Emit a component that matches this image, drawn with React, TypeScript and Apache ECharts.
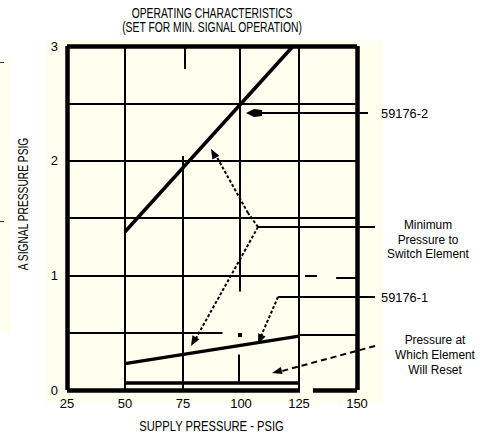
import React, { useEffect, useRef } from 'react';
import * as echarts from 'echarts';

const FONT = "'Liberation Sans', Arial, Helvetica, sans-serif";

const titleLines = ['OPERATING CHARACTERISTICS', '(SET FOR MIN. SIGNAL OPERATION)'];
const xName = 'SUPPLY PRESSURE - PSIG';
const yName = 'A SIGNAL PRESSURE PSIG';
const xTicks = [25, 50, 75, 100, 125, 150];
const yTicks = [0, 1, 2, 3];

// curves [supply psig, signal psig]
const line59176_2 = [[50, 1.38], [122.5, 3.0]];
const line59176_1 = [[50, 0.23], [125, 0.47]];
const resetLine = [[50, 0.06], [125, 0.06]];

// grid segments as drawn in the original (with its gaps)
const gridSegments = [
  [[50, 0], [50, 3]],
  [[75, 0], [75, 2.04]],
  [[75.9, 3], [75.9, 2.8]],
  [[99.5, 3], [99.5, 0.86]],
  [[99, 0.31], [99, 0.06]],
  [[125, 0], [125, 3]],
  [[25, 2.5], [150, 2.5]],
  [[25, 2], [150, 2]],
  [[25, 1.5], [150, 1.5]],
  [[25, 1], [125.4, 1]],
  [[127.6, 1], [132.8, 1]],
  [[141, 0.98], [150, 0.98]],
  [[25, 0.5], [92, 0.5]],
  [[125, 0.48], [150, 0.48]],
];
const borderSegments = [
  [[25, 0], [25, 3]],
  [[25, 3], [150, 3]],
  [[150, 3], [150, 0]],
  [[25, 0], [125.4, 0]],
  [[131, 0], [150, 0]],
];

const labels = {
  l2: '59176-2',
  l1: '59176-1',
  minP: 'Minimum\nPressure to\nSwitch Element',
  reset: 'Pressure at\nWhich Element\nWill Reset',
};

const toMarkLine = (segs: number[][][], width: number) => ({
  silent: true,
  symbol: ['none', 'none'],
  label: { show: false },
  emphasis: { disabled: true },
  lineStyle: { color: '#000', width, type: 'solid' },
  data: segs.map((s) => [{ coord: s[0] }, { coord: s[1] }]),
});

export default function App() {
  const ref = useRef<HTMLDivElement>(null);
  useEffect(() => {
    if (!ref.current) return;
    const chart = echarts.init(ref.current, undefined, { renderer: 'svg' });
    const stroke = (x1: number, y1: number, x2: number, y2: number, dash?: number[]) => ({
      type: 'line',
      z: 20,
      shape: { x1, y1, x2, y2 },
      style: { stroke: '#000', lineWidth: 2, lineDash: dash },
    });
    const poly = (points: number[][]) => ({
      type: 'polygon',
      z: 20,
      shape: { points },
      style: { fill: '#000' },
    });
    const txt = (
      x: number,
      y: number,
      text: string,
      align: string,
      opts: { size?: number; lh?: number; sx?: number; rot?: number } = {}
    ) => ({
      type: 'text',
      z: 20,
      x,
      y,
      scaleX: opts.sx ?? 1,
      rotation: opts.rot ?? 0,
      style: {
        text,
        fill: '#000',
        fontSize: opts.size ?? 13,
        fontFamily: FONT,
        lineHeight: opts.lh ?? 14,
        align,
        textAlign: align,
        verticalAlign: 'middle',
        textVerticalAlign: 'middle',
      },
    });
    chart.setOption({
      animation: false,
      backgroundColor: '#fff',
      textStyle: { fontFamily: FONT },
      grid: { left: 67, right: 123, top: 46, bottom: 48 },
      xAxis: {
        type: 'value',
        min: xTicks[0],
        max: xTicks[xTicks.length - 1],
        interval: 25,
        axisLine: { show: false },
        axisTick: { show: false },
        splitLine: { show: false },
        axisLabel: { fontSize: 13, color: '#000', margin: 7, fontFamily: FONT },
      },
      yAxis: {
        type: 'value',
        min: yTicks[0],
        max: yTicks[yTicks.length - 1],
        interval: 1,
        axisLine: { show: false },
        axisTick: { show: false },
        splitLine: { show: false },
        axisLabel: { fontSize: 13, color: '#000', margin: 9, fontFamily: FONT, padding: [0, 0, 6, 0] },
      },
      series: [
        {
          type: 'line',
          data: [[25, 0]],
          symbol: 'none',
          lineStyle: { width: 0 },
          silent: true,
          markLine: toMarkLine(gridSegments, 2),
        },
        {
          type: 'line',
          data: [[25, 0]],
          symbol: 'none',
          lineStyle: { width: 0 },
          silent: true,
          markLine: toMarkLine(borderSegments, 4.5),
        },
        {
          name: '59176-2',
          type: 'line',
          data: line59176_2,
          symbol: 'none',
          lineStyle: { color: '#000', width: 3.5 },
          silent: true,
        },
        {
          name: '59176-1',
          type: 'line',
          data: line59176_1,
          symbol: 'none',
          lineStyle: { color: '#000', width: 3.5 },
          silent: true,
        },
        {
          name: 'reset',
          type: 'line',
          data: resetLine,
          symbol: 'none',
          lineStyle: { color: '#000', width: 3.5 },
          silent: true,
        },
      ],
      graphic: [
        { type: 'rect', z: -10, shape: { x: 45, y: 40, width: 338, height: 363 }, style: { fill: '#fffff0' } },
        { type: 'rect', z: -10, shape: { x: 0, y: 60, width: 10, height: 273 }, style: { fill: '#fffff0' } },
        { type: 'rect', z: 20, shape: { x: 0, y: 62, width: 4, height: 1 }, style: { fill: '#333' } },
        { type: 'rect', z: 20, shape: { x: 0, y: 221, width: 4, height: 1 }, style: { fill: '#333' } },
        // title
        txt(212, 13, titleLines[0], 'center', { size: 14, sx: 0.74 }),
        txt(212, 27, titleLines[1], 'center', { size: 14, sx: 0.74 }),
        // axis names
        txt(211.5, 427, xName, 'center', { size: 14, sx: 0.8 }),
        txt(23, 204, yName, 'center', { size: 14, sx: 0.73, rot: Math.PI / 2 }),
        // 59176-2 leader
        stroke(252, 113, 368, 113),
        poly([[246, 113], [254, 109], [262, 110], [262, 116], [254, 117]]),
        txt(381, 113, labels.l2, 'left', { size: 13.5, sx: 0.95 }),
        // minimum pressure leaders
        stroke(258, 227, 375, 227),
        stroke(258, 227, 248, 213, [3, 2]),
        stroke(248, 213, 214, 152, [3, 2]),
        poly([[211, 149], [219.4, 155.8], [212.4, 159.6]]),
        stroke(258, 227, 195, 340, [3, 2]),
        poly([[191, 346], [199.4, 339.3], [192.4, 335.3]]),
        txt(428, 239, labels.minP, 'center', { size: 13.5, lh: 14.5, sx: 0.88 }),
        // 59176-1 leader
        stroke(278, 297, 375, 297),
        stroke(278, 297, 261, 336, [3, 2]),
        poly([[258, 344], [265.6, 336.4], [258.2, 333.2]]),
        txt(381, 297, labels.l1, 'left', { size: 13.5, sx: 0.95 }),
        // reset leader
        stroke(375, 346, 282, 371, [6, 4]),
        poly([[272, 373], [282.6, 373.9], [280.8, 367.1]]),
        txt(435, 354, labels.reset, 'center', { size: 13.5, lh: 15, sx: 0.88 }),
        // small speck
        { type: 'rect', z: 20, shape: { x: 238, y: 333, width: 4, height: 4 }, style: { fill: '#000' } },
      ],
    });
    return () => chart.dispose();
  }, []);
  return <div ref={ref} style={{ position: 'fixed', left: 0, top: 0, width: 480, height: 438 }} />;
}
